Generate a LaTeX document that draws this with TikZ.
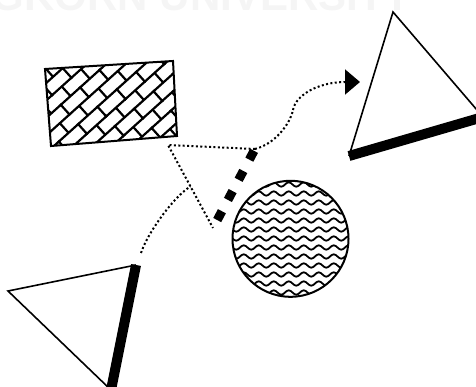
\documentclass[tikz,border=0pt]{standalone}
\usepackage{fontspec}
\newfontfamily\wmfont{Liberation Sans}
\usetikzlibrary{patterns.meta,arrows.meta,calc}

\pgfdeclarepattern{
  name=mybricks,
  type=uncolored,
  bottom left={\pgfpoint{-1.5pt}{-1.5pt}},
  top right={\pgfpoint{27.5pt}{27.5pt}},
  tile size={\pgfpoint{26pt}{26pt}},
  tile transformation={\pgftransformrotate{42}},
  code={
    \pgfsetlinewidth{2.2pt}
    \pgfpathmoveto{\pgfpoint{-1.5pt}{0pt}}\pgfpathlineto{\pgfpoint{27.5pt}{0pt}}
    \pgfpathmoveto{\pgfpoint{-1.5pt}{13pt}}\pgfpathlineto{\pgfpoint{27.5pt}{13pt}}
    \pgfpathmoveto{\pgfpoint{0pt}{0pt}}\pgfpathlineto{\pgfpoint{0pt}{13pt}}
    \pgfpathmoveto{\pgfpoint{13pt}{13pt}}\pgfpathlineto{\pgfpoint{13pt}{26pt}}
    \pgfusepath{stroke}
  }
}

\pgfdeclarepattern{
  name=mywaves,
  type=uncolored,
  bottom left={\pgfpoint{-1pt}{0pt}},
  top right={\pgfpoint{16pt}{9pt}},
  tile size={\pgfpoint{15pt}{9pt}},
  code={
    \pgfsetlinewidth{1.8pt}
    \pgfpathmoveto{\pgfpoint{0pt}{4.5pt}}
    \pgfpathsine{\pgfpoint{3.75pt}{2.2pt}}
    \pgfpathcosine{\pgfpoint{3.75pt}{-2.2pt}}
    \pgfpathsine{\pgfpoint{3.75pt}{-2.2pt}}
    \pgfpathcosine{\pgfpoint{3.75pt}{2.2pt}}
    \pgfusepath{stroke}
  }
}

\tikzset{
  edgethin/.style={line width=1.6pt, line join=miter},
  edgeframe/.style={line width=2pt, line join=miter},
  edgethick/.style={line width=10pt, line cap=butt},
  dashthick/.style={line width=9pt, line cap=butt, dash pattern=on 10pt off 12.8pt, dash phase=13.8pt},
  dotline/.style={line width=2pt, dash pattern=on 2pt off 2.4pt},
  wm/.style={inner sep=0pt, anchor=base east, text=black!4, font=\wmfont\bfseries\fontsize{42}{42}\selectfont}
}

\begin{document}
\begin{tikzpicture}[x=1pt,y=-1pt]
\useasboundingbox (0,0) rectangle (476,387);
\clip (0,0) rectangle (476,387);

% faint watermark
\node[wm] (watermark) at (412,11) {CHULALONGKORN UNIVERSITY};

% patterned rectangle
\coordinate (r1) at (45,69);
\coordinate (r2) at (173,61);
\coordinate (r3) at (177,136);
\coordinate (r4) at (51,146);
\draw[edgeframe, pattern=mybricks] (r1) -- (r2) -- (r3) -- (r4) -- cycle;

% patterned circle
\coordinate (cc) at (290.5,238.8);
\draw[edgeframe, pattern=mywaves] (cc) circle[radius=58];

% bottom-left triangle
\coordinate (p1) at (8,291);
\coordinate (p2) at (136,265);
\coordinate (p3) at (111,390);
\draw[edgethin] (p2) -- (p1) -- (p3);
\draw[edgethick] (p2) -- (p3);

% top-right triangle
\coordinate (t1) at (393,12);
\coordinate (t2) at (349,156);
\coordinate (t3) at (483,117);
\draw[edgethin] (t2) -- (t1) -- (t3);
\draw[edgethick] (t2) -- (t3);

% dotted triangle
\coordinate (d1) at (168,145);
\coordinate (d2) at (255,149);
\coordinate (d3) at (213,228);
\draw[dotline] (d2) -- (d1) -- (d3);
\draw[dashthick] (d3) -- (d2);

% connectors
\coordinate (q1) at (141,253);
\coordinate (q2) at ($(d1)!0.5!(d3)$);
\draw[dotline] (q1) .. controls (147,234) and (173.5,196.5) .. (q2);

\coordinate (mid) at (293,110);
\coordinate (arrowtip) at (360,82);
\draw[dotline] (d2) .. controls (275,144) and (290,124) .. (mid);
\draw[dotline, -{Triangle[length=15pt,width=25pt]}] (mid) .. controls (296,94) and (320,82) .. (arrowtip);
\end{tikzpicture}
\end{document}
